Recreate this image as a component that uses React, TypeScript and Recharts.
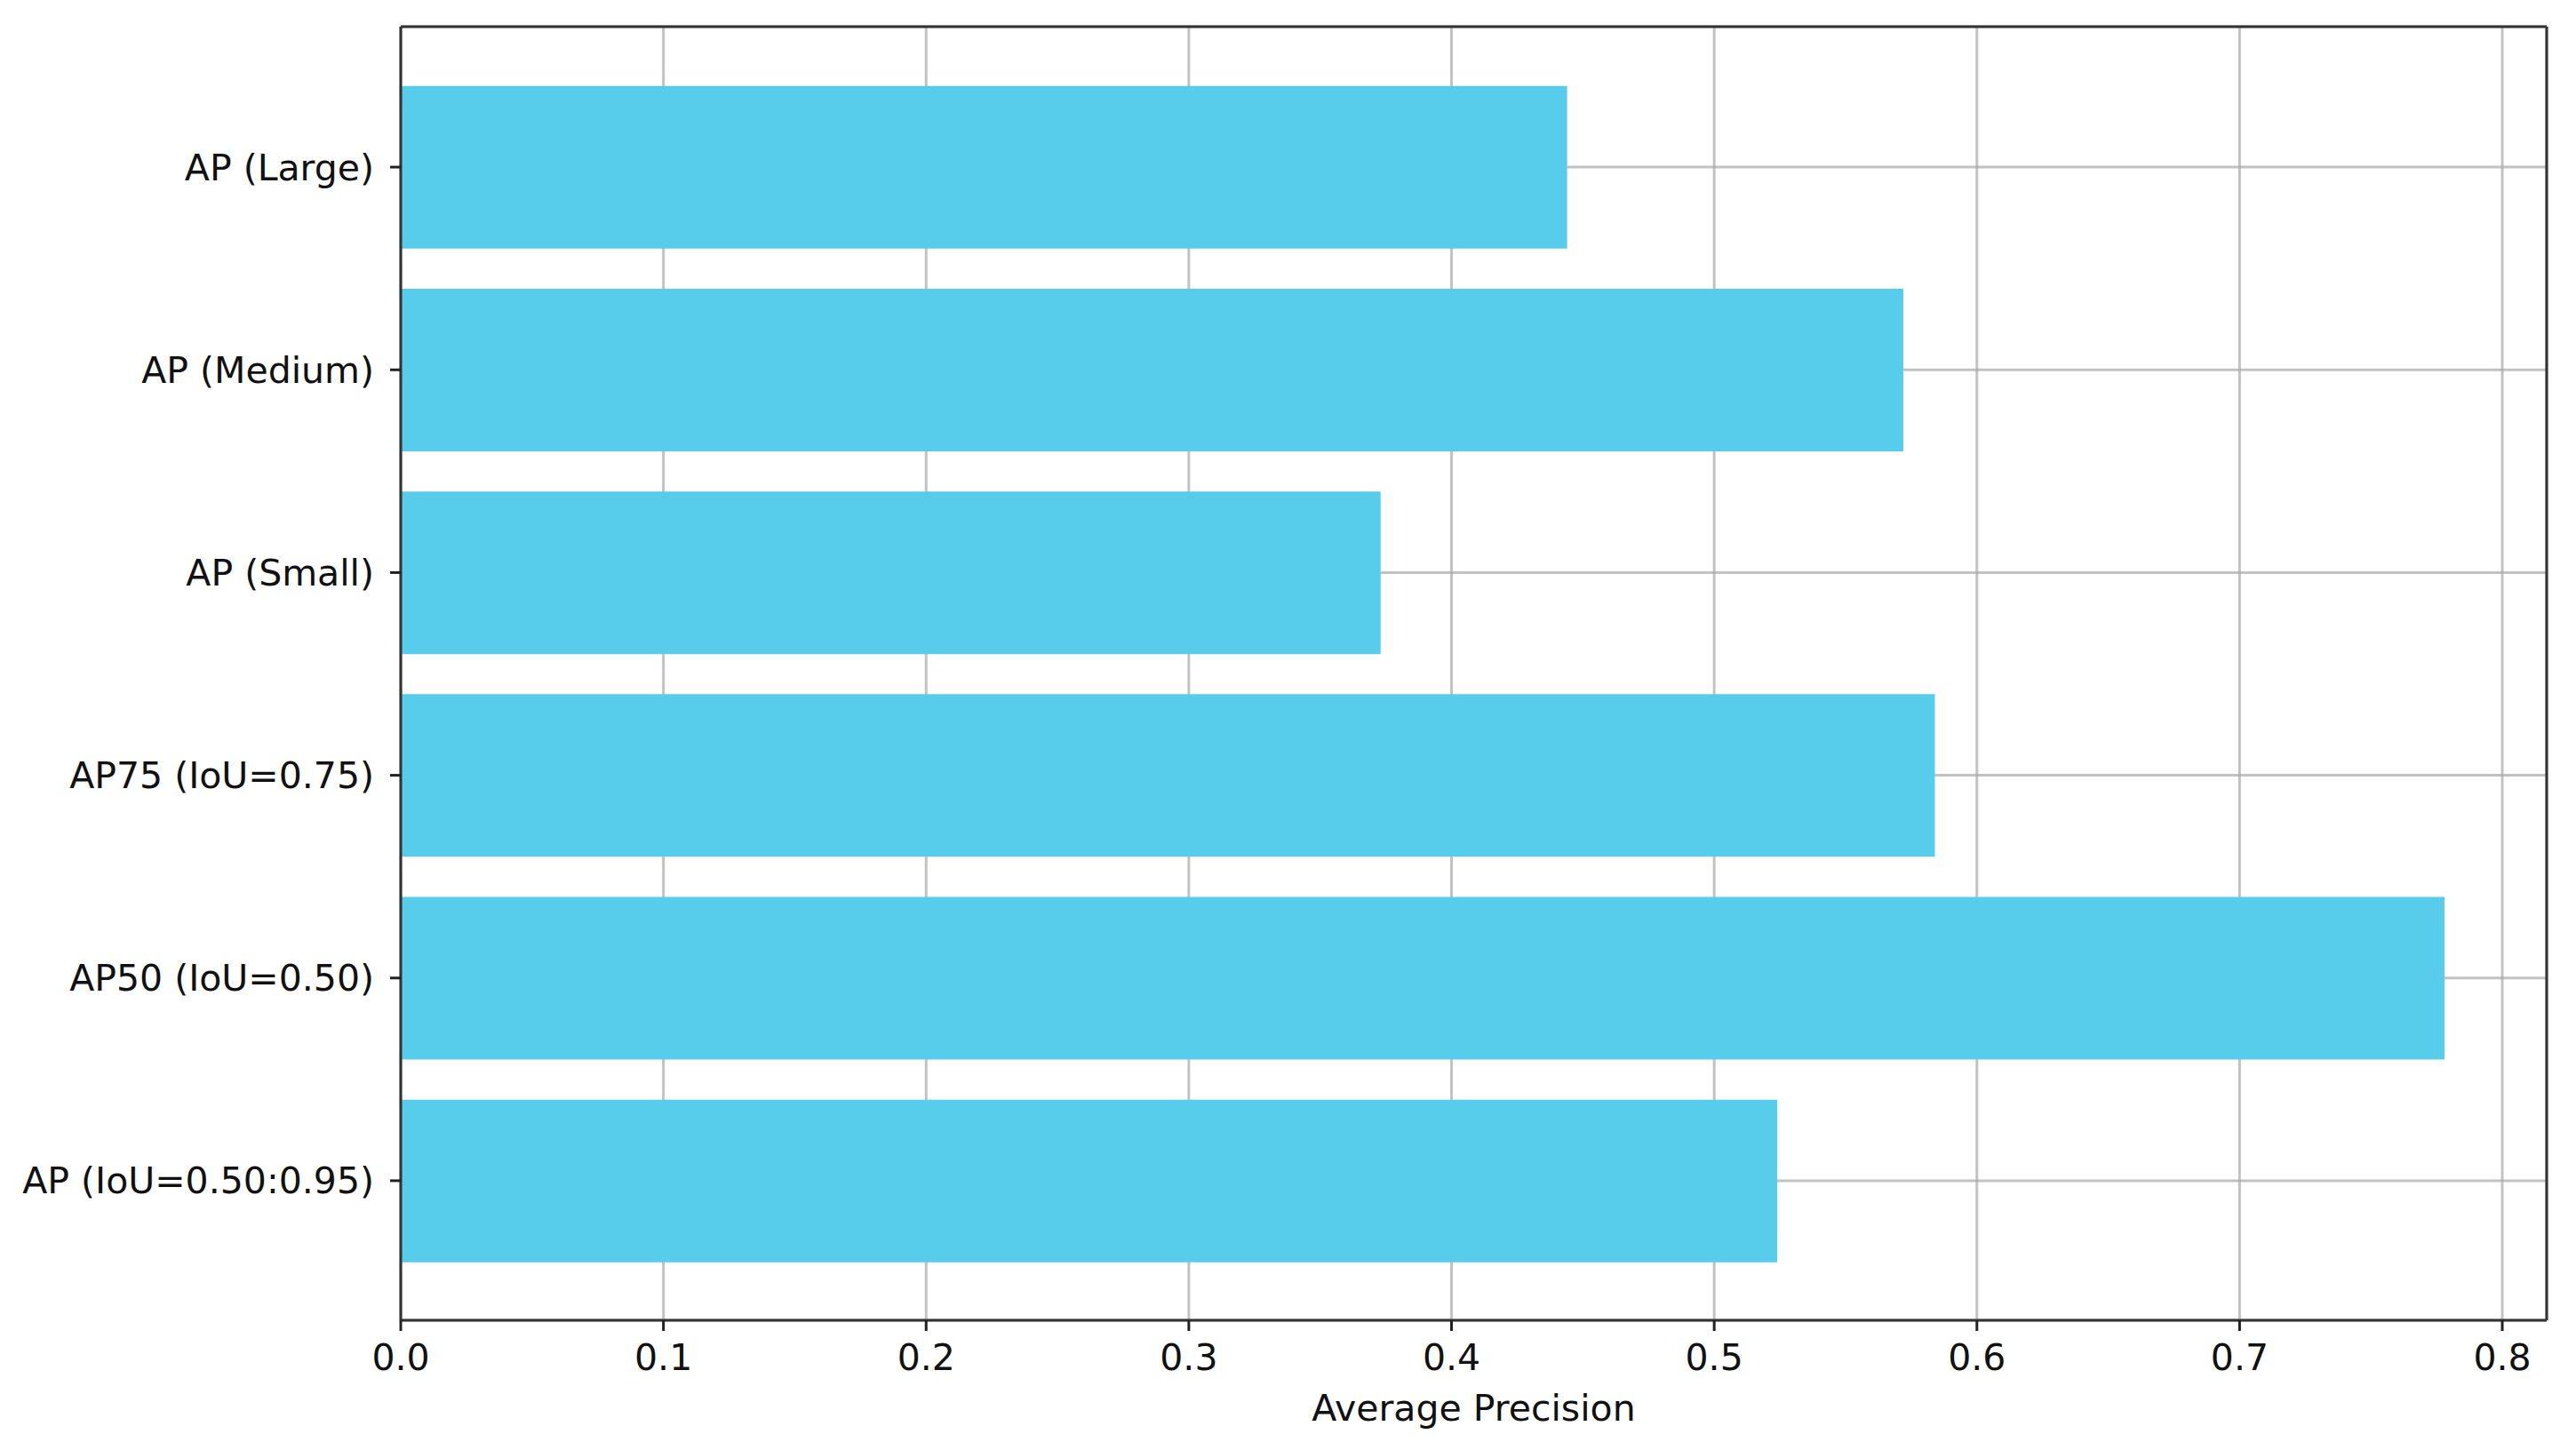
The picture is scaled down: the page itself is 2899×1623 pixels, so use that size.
import { BarChart, Bar, XAxis, YAxis, CartesianGrid } from 'recharts';

const categories = [
  'AP (Large)',
  'AP (Medium)',
  'AP (Small)',
  'AP75 (IoU=0.75)',
  'AP50 (IoU=0.50)',
  'AP (IoU=0.50:0.95)',
];
const precision = [0.444, 0.572, 0.373, 0.584, 0.778, 0.524];
const xTicks = [0, 0.1, 0.2, 0.3, 0.4, 0.5, 0.6, 0.7, 0.8];

const data = categories.map((name, i) => ({ name, value: precision[i] }));
const xMax = Math.max(...precision) * 1.05;

const font = 'DejaVu Sans, sans-serif';
const barColor = '#57cdeb';
const spine = { stroke: '#333', strokeWidth: 3 };

const App = () => {
  return (
    <div style={{ position: 'absolute', left: 0, top: 0, width: 2899, height: 1623, background: '#fff' }}>
      <BarChart
        width={2899}
        height={1623}
        data={data}
        layout="vertical"
        barCategoryGap="10%"
        margin={{ top: 30, right: 33, left: 0, bottom: 0 }}
      >
        <XAxis
          type="number"
          domain={[0, xMax]}
          ticks={xTicks}
          tickFormatter={(v: number) => v.toFixed(1)}
          height={137}
          tickSize={12}
          tickMargin={15}
          axisLine={spine}
          tickLine={{ stroke: '#222', strokeWidth: 3 }}
          tick={{ fill: '#111', fontSize: 41, fontFamily: font }}
          label={{
            value: 'Average Precision',
            position: 'insideBottom',
            offset: 24,
            fill: '#111',
            fontSize: 41,
            fontFamily: font,
          }}
        />
        <YAxis
          type="category"
          dataKey="name"
          width={451}
          padding={{ top: 44, bottom: 43 }}
          tickSize={12}
          tickMargin={18}
          axisLine={spine}
          tickLine={{ stroke: '#222', strokeWidth: 3 }}
          tick={{ fill: '#111', fontSize: 41, fontFamily: font }}
        />
        <Bar dataKey="value" fill={barColor} isAnimationActive={false} />
        <CartesianGrid stroke="#a8a8a8" strokeOpacity={0.7} strokeWidth={3} />
        {/* top and right spines */}
        <CartesianGrid
          stroke="#333"
          strokeWidth={3}
          horizontalCoordinatesGenerator={({ offset }: any) => [offset.top]}
          verticalCoordinatesGenerator={({ offset }: any) => [offset.left + offset.width]}
        />
      </BarChart>
    </div>
  );
};

export default App;
